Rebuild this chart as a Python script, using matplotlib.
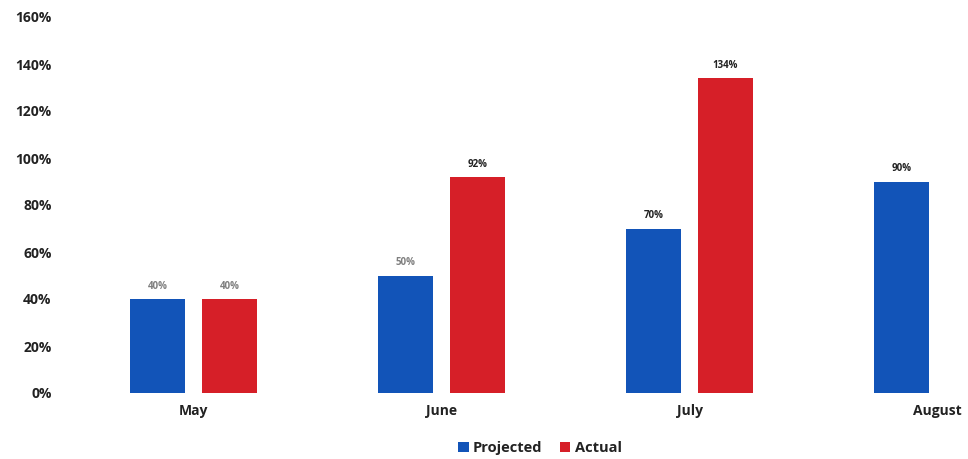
import numpy as np
import matplotlib.pyplot as plt

months = ['May', 'June', 'July', 'August']
projected = [40, 50, 70, 90]
actual = [40, 92, 134, np.nan]
proj_label_colors = ['#7f7f7f', '#7f7f7f', '#222222', '#222222']
act_label_colors = ['#7f7f7f', '#222222', '#222222', '#222222']

blue = '#1254b8'
red = '#d61f28'

plt.rcParams['font.family'] = ['Open Sans', 'DejaVu Sans']

fig = plt.figure(figsize=(9.68, 4.59), dpi=100)
ax = fig.add_axes([69.5 / 968, 66 / 459, 1 - 69.5 / 968, 376 / 459])

x = np.arange(len(months))
w = 0.222
off = 0.145
b1 = ax.bar(x - off, projected, w, color=blue, label='Projected')
b2 = ax.bar(x + off, actual, w, color=red, label='Actual')

for i, v in enumerate(projected):
    ax.text(x[i] - off, v + 3, f'{v}%', ha='center', va='bottom',
            fontsize=7, fontweight='bold', color=proj_label_colors[i])
for i, v in enumerate(actual):
    if not np.isnan(v):
        ax.text(x[i] + off, v + 3, f'{v:.0f}%', ha='center', va='bottom',
                fontsize=7, fontweight='bold', color=act_label_colors[i])

ax.set_xlim(-0.5, 3 + (968 - 937.5) / 248)
ax.set_ylim(0, 160)
ax.set_yticks(range(0, 161, 20))
ax.set_yticklabels([f'{t}%' for t in range(0, 161, 20)])
ax.set_xticks(x)
ax.set_xticklabels(months)
for lab in ax.get_xticklabels() + ax.get_yticklabels():
    lab.set_fontweight('bold')
    lab.set_color('#222222')
    lab.set_fontsize(10)
ax.tick_params(length=0)
ax.tick_params(axis='x', pad=8)
ax.tick_params(axis='y', pad=13)
for s in ax.spines.values():
    s.set_visible(False)

fig.legend(handles=[b1, b2], loc='center', bbox_to_anchor=(540 / 968, 11 / 459),
           ncol=2, frameon=False, handlelength=0.7, handleheight=0.7,
           handletextpad=0.3, columnspacing=1.2,
           prop={'weight': 'bold', 'size': 10.5})
for t in fig.legends[0].get_texts():
    t.set_color('#222222')

fig.savefig('out.png', dpi=100)
